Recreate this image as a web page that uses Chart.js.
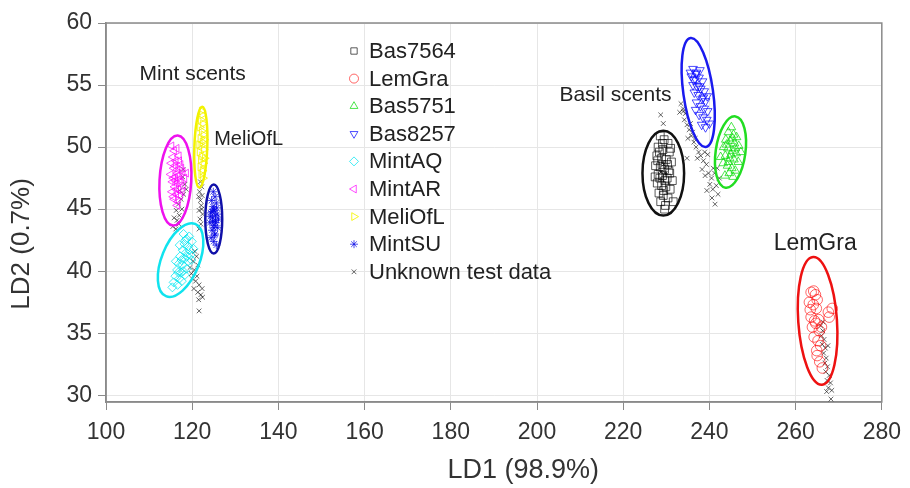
<!DOCTYPE html>
<html>
<head>
<meta charset="utf-8">
<script src="https://cdn.jsdelivr.net/npm/chart.js@4.4.1/dist/chart.umd.min.js"></script>
<style>
  html, body { margin: 0; padding: 0; background: #fff; }
</style>
</head>
<body>
<canvas id="ldaChart" width="910" height="488"></canvas>
<script>
/* LDA score plot: LD1 vs LD2, training classes + unknown test data */

const FONT = "'Liberation Sans', Arial, sans-serif";
const TICK_COLOR = '#333333';
const GRID_COLOR = '#e6e6e6';
const AXIS_COLOR = '#8a8a8a';

const X_TICKS = [100, 120, 140, 160, 180, 200, 220, 240, 260, 280];
const Y_TICKS = [30, 35, 40, 45, 50, 55, 60];
const X_TITLE = 'LD1 (98.9%)';
const Y_TITLE = 'LD2 (0.7%)';

/* -------- class scores [LD1, LD2] -------- */
const bas7564 = [
  [228.6,50.9],[229.5,50.6],[230.4,50.3],[228.1,50.0],[229.2,49.8],[230.7,49.6],[227.8,49.3],[228.9,49.1],
  [230.0,49.0],[231.2,48.8],[227.5,48.5],[228.6,48.4],[229.6,48.2],[230.6,48.1],[228.1,47.8],[229.1,47.7],
  [230.2,47.5],[231.4,47.3],[227.9,47.1],[228.9,46.9],[229.9,46.8],[230.9,46.6],[228.3,46.3],[229.3,46.1],
  [230.4,45.9],[228.7,45.6],[229.8,45.3],[231.6,45.6],[227.4,47.6],[231.0,49.9],[229.6,45.0],[228.4,49.6],
  [229.0,48.6],[229.7,47.3],[228.5,47.5],[230.3,48.6],[229.4,46.5],[228.0,48.9],[230.8,47.9],[229.1,50.3],
];
const lemGra = [
  [263.6,38.3],[264.6,38.1],[265.0,37.7],[263.2,37.5],[264.1,37.3],[264.8,37.0],[268.5,37.0],[267.6,36.7],
  [267.8,36.3],[263.6,36.3],[264.4,36.0],[265.3,36.1],[264.7,35.8],[263.9,35.5],[265.5,35.2],[264.3,34.7],
  [265.2,34.4],[265.8,34.0],[264.9,33.6],[265.0,33.2],[266.2,32.2],[265.6,32.7],[266.0,35.5],[263.4,36.9],
  [264.2,38.4],
];
const bas5751 = [
  [245.1,51.6],[244.4,51.2],[245.6,51.0],[246.3,50.8],[243.8,50.6],[244.8,50.5],[245.8,50.3],[246.8,50.1],
  [243.3,50.0],[244.3,49.9],[245.3,49.7],[246.2,49.5],[243.7,49.3],[244.7,49.1],[245.7,49.0],[246.7,48.8],
  [243.2,48.7],[244.2,48.5],[245.2,48.3],[246.0,48.1],[244.6,47.9],[243.6,47.7],[245.5,47.6],[247.3,49.6],
  [242.6,49.2],[244.0,50.2],[245.0,49.4],[246.0,49.9],[244.4,48.8],[245.4,50.7],
];
const bas8257 = [
  [236.2,56.3],[237.0,56.0],[237.8,56.2],[235.8,55.7],[236.7,55.5],[237.6,55.6],[238.4,55.3],[236.2,55.0],
  [237.1,54.9],[238.0,54.7],[238.8,54.5],[236.5,54.4],[237.4,54.2],[238.3,53.9],[239.1,53.7],[237.0,53.6],
  [237.9,53.3],[238.8,53.1],[239.6,52.9],[237.6,52.6],[238.5,52.4],[239.4,52.2],[238.2,51.8],[239.1,51.6],
  [240.0,51.9],[235.6,56.0],[239.5,54.1],[236.8,53.0],[236.9,55.9],[237.7,54.9],[238.6,54.0],[236.4,55.4],
];
const mintAQ = [
  [119.3,42.8],[118.7,42.6],[119.9,42.4],[118.2,42.2],[119.1,42.0],[120.3,41.8],[117.8,41.7],[118.6,41.5],
  [119.6,41.3],[117.2,41.2],[118.2,41.0],[119.0,40.8],[116.9,40.6],[117.8,40.5],[118.7,40.2],[116.5,40.1],
  [117.4,39.9],[118.3,39.7],[116.1,39.6],[117.0,39.4],[115.7,39.1],[116.6,38.9],[115.4,38.7],[117.6,39.2],
  [116.2,40.8],[119.8,40.9],[118.0,43.0],[117.1,42.1],[118.9,41.2],[117.5,40.9],[118.4,42.5],[116.8,39.9],
  [119.4,41.7],[117.9,40.0],
];
const mintAR = [
  [115.2,50.1],[115.8,49.7],[116.4,49.9],[115.5,49.2],[116.9,49.3],[115.1,48.7],[116.2,48.9],[117.3,48.6],
  [115.7,48.3],[116.6,48.2],[117.8,48.0],[115.0,47.8],[116.0,47.6],[116.9,47.7],[118.2,47.5],[115.4,47.2],
  [116.4,47.1],[117.4,47.2],[115.9,46.8],[116.8,46.6],[117.9,46.9],[115.3,46.4],[116.3,46.2],[117.2,46.1],
  [115.8,45.8],[116.7,45.6],[117.6,46.4],[116.1,47.3],[117.0,48.9],[118.6,47.9],[115.6,46.0],[116.5,45.3],
  [116.0,48.5],[117.1,47.4],[116.6,47.9],[115.6,47.5],[117.5,48.3],[116.3,46.6],
];
const meliOfL = [
  [122.3,52.6],[122.0,52.2],[122.5,51.9],[121.8,51.6],[122.2,51.3],[122.6,51.0],[121.9,50.7],[122.4,50.4],
  [122.1,50.1],[122.7,49.8],[121.7,49.6],[122.3,49.3],[122.0,49.0],[122.6,48.7],[121.9,48.4],[122.4,48.1],
  [122.1,47.8],[122.5,47.5],[122.2,52.9],[122.8,50.6],[121.6,50.2],[122.9,49.1],
];
const mintSU = [
  [124.9,46.4],[125.3,46.0],[124.5,45.7],[125.6,45.5],[124.8,45.2],[125.2,44.9],[124.3,44.7],[125.8,44.6],
  [124.7,44.3],[125.4,44.1],[124.1,43.9],[125.1,43.7],[125.9,43.5],[124.6,43.3],[125.3,43.0],[124.4,42.7],
  [125.0,42.4],[125.6,42.1],[124.8,44.0],[125.5,43.9],[124.9,45.0],[125.2,42.9],[124.2,44.4],[125.7,45.1],
  [125.0,43.5],[124.6,44.8],[125.4,44.5],[126.1,44.2],
];

/* -------- unknown test data -------- */
const unknownMint = [
  [117.8,47.6],[118.3,47.0],[117.1,46.5],[118.0,46.2],[117.4,45.8],[116.8,45.4],[117.6,45.0],[116.3,44.9],
  [117.0,44.5],[116.5,44.1],[115.8,44.3],[116.9,43.8],[115.5,43.6],[116.2,43.4],[118.6,46.6],[117.9,48.2],
  [121.9,47.2],[122.2,46.8],[121.7,46.4],[122.3,46.1],[121.9,45.7],[122.1,45.3],[121.6,44.9],[122.4,44.6],
  [121.8,44.2],[122.0,43.8],[121.6,43.4],[122.2,45.0],[121.5,46.0],
  [120.6,41.6],[121.0,41.2],[120.2,40.8],[121.3,40.5],[120.5,40.1],[119.8,39.8],[121.1,39.6],[120.0,39.4],
  [120.8,39.2],[121.6,38.9],[120.4,38.6],[121.3,38.3],[122.0,38.1],[121.5,37.7],[122.4,37.9],[121.6,36.8],
  [119.5,40.3],[122.3,38.6],
];
const unknownBasil = [
  [228.7,52.6],[229.3,51.9],[233.4,53.5],[233.9,53.1],[234.4,52.7],[234.2,52.2],[234.8,51.8],[235.3,51.4],
  [235.0,50.7],[235.8,50.9],[236.4,50.4],[236.9,50.0],[237.5,49.6],[237.2,49.1],[238.0,49.3],[238.6,48.9],
  [239.3,48.6],[238.3,48.2],[239.0,47.7],[239.8,47.9],[240.5,47.5],[241.2,47.9],[240.1,47.0],[239.4,46.5],
  [240.8,46.6],[241.6,46.9],[242.0,46.2],[240.6,45.9],[241.3,45.4],[234.8,49.1],[233.1,52.8],[239.6,49.4],
  [240.9,48.3],[242.3,47.5],[229.4,48.6],[229.0,47.4],[229.8,47.9],[228.8,48.0],
  [234.0,52.9],[235.6,51.9],[236.1,51.2],[236.7,50.7],[238.9,49.6],[241.8,48.3],
];
const unknownLemGra = [
  [265.8,35.6],[266.3,35.2],[266.0,34.8],[266.6,34.5],[266.2,34.1],[266.9,33.8],[266.5,33.4],[267.1,33.0],
  [266.8,32.6],[267.4,32.3],[267.0,31.9],[267.8,31.6],[267.3,31.2],[268.1,31.0],[267.6,30.6],[268.4,30.4],
  [267.2,30.3],[268.2,29.7],[266.4,35.9],[267.5,34.0],
];

/* -------- class ellipses: centre, semi-axes (data units), tilt (deg) -------- */
const ELLIPSES = [
  { color: '#111111', cx: 229.3, cy: 47.9, rx: 4.83, ry: 3.42, tilt: 0 },
  { color: '#ee1111', cx: 265.1, cy: 36.0, rx: 4.49, ry: 5.16, tilt: -4 },
  { color: '#22dd22', cx: 244.9, cy: 49.6, rx: 3.45, ry: 2.90, tilt: 8 },
  { color: '#1a1aee', cx: 237.4, cy: 54.4, rx: 3.45, ry: 4.43, tilt: -8 },
  { color: '#11e3ee', cx: 117.3, cy: 40.9, rx: 4.37, ry: 3.14, tilt: 22 },
  { color: '#ee11ee', cx: 116.1, cy: 47.3, rx: 3.68, ry: 3.63, tilt: 3 },
  { color: '#f2f200', cx: 122.0, cy: 50.0, rx: 1.50, ry: 3.26, tilt: 2 },
  { color: '#1010a8', cx: 125.0, cy: 44.2, rx: 1.96, ry: 2.78, tilt: 0 },
];

/* -------- text annotations -------- */
const NOTES = [
  { text: 'Mint scents',  x: 107.8, y: 55.9, size: 21 },
  { text: 'MeliOfL',      x: 125.1, y: 50.6, size: 20 },
  { text: 'Basil scents', x: 205.2, y: 54.2, size: 21 },
  { text: 'LemGra',       x: 254.9, y: 42.2, size: 23 },
];

const pts = arr => arr.map(([x, y]) => ({ x, y }));

const SERIES = [
  { label: 'Bas7564',           data: bas7564, color: 'rgba(0,0,0,0.65)',     style: 'rect',     r: 5.5, rot: 0 },
  { label: 'LemGra',            data: lemGra,  color: 'rgba(255,0,0,0.6)',    style: 'circle',   r: 5.3, rot: 0 },
  { label: 'Bas5751',           data: bas5751, color: 'rgba(0,220,0,0.7)',    style: 'triangle', r: 5,   rot: 0 },
  { label: 'Bas8257',           data: bas8257, color: 'rgba(0,0,255,0.7)',    style: 'triangle', r: 5,   rot: 180 },
  { label: 'MintAQ',            data: mintAQ,  color: 'rgba(0,230,240,0.75)', style: 'rectRot',  r: 4.5, rot: 0 },
  { label: 'MintAR',            data: mintAR,  color: 'rgba(255,0,255,0.7)',  style: 'triangle', r: 4.5, rot: -90 },
  { label: 'MeliOfL',           data: meliOfL, color: 'rgba(245,245,0,0.85)', style: 'triangle', r: 4.5, rot: 90 },
  { label: 'MintSU',            data: mintSU,  color: 'rgba(0,0,230,0.7)',    style: 'star',     r: 4,   rot: 0 },
  { label: 'Unknown test data', data: [...unknownMint, ...unknownBasil, ...unknownLemGra],
    color: 'rgba(0,0,0,0.6)', style: 'crossRot', r: 3.3, rot: 0 },
];

/* frame around plot area (top + right edges too) */
const framePlugin = {
  id: 'frame',
  beforeDatasetsDraw(chart) {
    const { ctx, chartArea: a } = chart;
    ctx.save();
    ctx.strokeStyle = AXIS_COLOR;
    ctx.lineWidth = 1.5;
    ctx.strokeRect(a.left, a.top, a.right - a.left, a.bottom - a.top);
    ctx.restore();
  },
};

/* confidence ellipses, converted through the scales */
const ellipsePlugin = {
  id: 'ellipses',
  afterDatasetsDraw(chart) {
    const { ctx, scales: { x, y } } = chart;
    const kx = Math.abs(x.getPixelForValue(1) - x.getPixelForValue(0));
    const ky = Math.abs(y.getPixelForValue(1) - y.getPixelForValue(0));
    ctx.save();
    ctx.lineWidth = 2.5;
    ELLIPSES.forEach(e => {
      ctx.strokeStyle = e.color;
      ctx.beginPath();
      ctx.ellipse(x.getPixelForValue(e.cx), y.getPixelForValue(e.cy), e.rx * kx, e.ry * ky,
        e.tilt * Math.PI / 180, 0, Math.PI * 2);
      ctx.stroke();
    });
    ctx.restore();
  },
};

/* annotations, axis titles (sit off-centre in the original) + in-plot legend */
const textPlugin = {
  id: 'texts',
  afterDraw(chart) {
    const { ctx, scales: { x, y } } = chart;
    ctx.save();
    ctx.fillStyle = '#222';
    ctx.textBaseline = 'middle';
    ctx.textAlign = 'left';
    NOTES.forEach(n => {
      ctx.font = `${n.size}px ${FONT}`;
      ctx.fillText(n.text, x.getPixelForValue(n.x), y.getPixelForValue(n.y));
    });

    /* axis titles */
    ctx.fillStyle = TICK_COLOR;
    ctx.font = `27px ${FONT}`;
    ctx.textAlign = 'center';
    ctx.fillText(X_TITLE, x.getPixelForValue(196.8), 471);
    ctx.save();
    ctx.translate(22, y.getPixelForValue(42.2));
    ctx.rotate(-Math.PI / 2);
    ctx.font = `26px ${FONT}`;
    ctx.fillText(Y_TITLE, 0, 0);
    ctx.restore();

    /* legend */
    const lx = 354, ly = 51, step = 27.6;
    ctx.textAlign = 'left';
    ctx.font = `22px ${FONT}`;
    SERIES.forEach((s, i) => {
      const yy = ly + i * step;
      ctx.strokeStyle = s.color;
      ctx.fillStyle = 'rgba(0,0,0,0)';
      ctx.lineWidth = 1;
      if (Chart.helpers && Chart.helpers.drawPoint) {
        Chart.helpers.drawPoint(ctx, { pointStyle: s.style, radius: Math.min(s.r, 4.5), rotation: s.rot, borderWidth: 1 }, lx, yy);
      }
      ctx.fillStyle = '#222';
      ctx.fillText(s.label, lx + 15, yy + 1);
    });
    ctx.restore();
  },
};

new Chart(document.getElementById('ldaChart'), {
  type: 'scatter',
  data: {
    datasets: SERIES.map(s => ({
      label: s.label,
      data: pts(s.data),
      pointStyle: s.style,
      pointRadius: s.r,
      pointRotation: s.rot,
      borderColor: s.color,
      backgroundColor: 'rgba(0,0,0,0)',
      borderWidth: 1,
    })),
  },
  options: {
    responsive: false,
    animation: false,
    layout: { padding: { top: 23, right: 22, left: 0, bottom: 0 } },
    plugins: {
      legend: { display: false },
      tooltip: { enabled: false },
    },
    scales: {
      x: {
        type: 'linear',
        min: 100, max: 280,
        afterBuildTicks: s => { s.ticks = X_TICKS.map(v => ({ value: v })); },
        afterFit: s => { s.height = 86; },
        ticks: { color: TICK_COLOR, font: { family: FONT, size: 23 }, padding: 9, maxRotation: 0 },
        grid: { color: GRID_COLOR, tickColor: AXIS_COLOR, tickLength: 8 },
        border: { color: AXIS_COLOR, width: 1.5 },
      },
      y: {
        type: 'linear',
        min: 29.46, max: 60,
        afterBuildTicks: s => { s.ticks = Y_TICKS.map(v => ({ value: v })); },
        afterFit: s => { s.width = 106; },
        ticks: { color: TICK_COLOR, font: { family: FONT, size: 23 }, padding: 6 },
        grid: { color: GRID_COLOR, tickColor: AXIS_COLOR, tickLength: 8 },
        border: { color: AXIS_COLOR, width: 1.5 },
      },
    },
  },
  plugins: [framePlugin, ellipsePlugin, textPlugin],
});
</script>
</body>
</html>
